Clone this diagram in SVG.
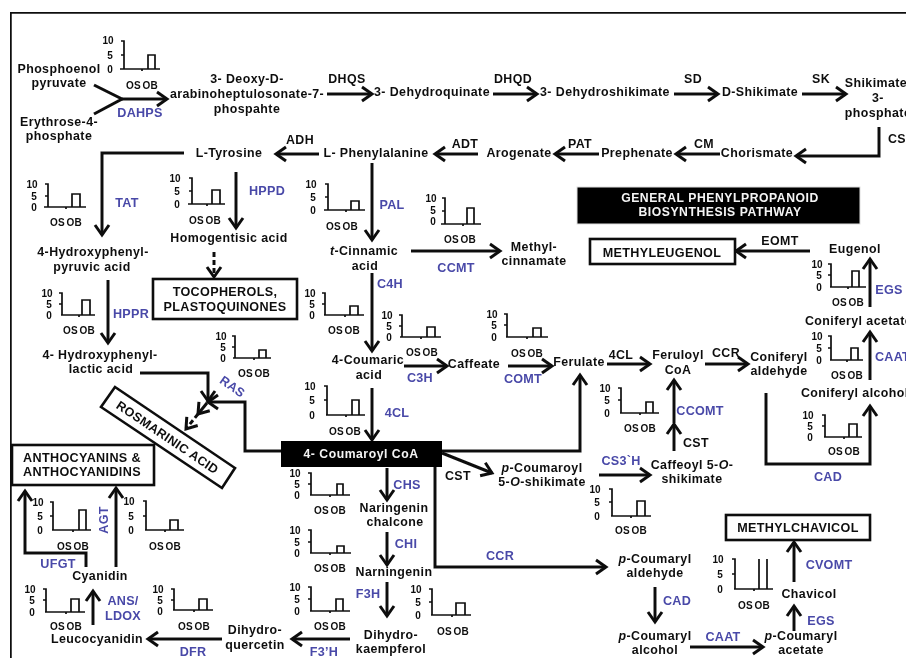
<svg xmlns="http://www.w3.org/2000/svg" width="906" height="658" viewBox="0 0 906 658">
<style>
text{font-family:"Liberation Sans",Arial,sans-serif;font-weight:bold;font-size:12.4px;letter-spacing:.42px;fill:#111;text-anchor:middle}
.e{fill:#4949a8;font-size:12.6px;letter-spacing:.25px}
.n{font-size:10px;letter-spacing:0}
.o{font-size:10px;letter-spacing:.3px;word-spacing:-1.6px}
.w{fill:#f4f4f4;font-size:12.2px;letter-spacing:.55px}
.b{font-size:12.6px;letter-spacing:.35px}
.box{fill:#fff;stroke:#111;stroke-width:2.6}
.blk{fill:#050505;stroke:#ddd;stroke-width:1}
.a{fill:none;stroke:#111;stroke-width:3;marker-end:url(#h)}
.l{fill:none;stroke:#111;stroke-width:3}
.d{stroke-dasharray:5 3}
.c{fill:none;stroke:#111;stroke-width:1.7}
.it{font-style:italic}
</style>
<defs>
<marker id="h" markerUnits="userSpaceOnUse" markerWidth="16" markerHeight="18" refX="13" refY="9" orient="auto" overflow="visible">
<path d="M3,2 L13,9 L3,16" fill="none" stroke="#111" stroke-width="3"/>
</marker>
<filter id="soft" x="0" y="0" width="100%" height="100%"><feGaussianBlur stdDeviation="0.35"/></filter>
</defs>
<rect width="906" height="658" fill="#fff"/>
<g filter="url(#soft)">
<path id="frame" d="M906,12.500H10.500V658" fill="none" stroke="#111" stroke-width="2.500"/>

<g id="connectors">
<path class="l" d="M94,85L122,99L94,114"/>
<path class="a" d="M122,99H167"/>
<path class="a" d="M327,94H372"/>
<path class="a" d="M493,94H537"/>
<path class="a" d="M674,94H718"/>
<path class="a" d="M802,94H846"/>
<path class="a" d="M879,127V156H796"/>
<path class="a" d="M720,154H676"/>
<path class="a" d="M599,154H555"/>
<path class="a" d="M478,154H435"/>
<path class="a" d="M319,154H276"/>
<path class="a" d="M184,153H102V235"/>
<path class="a" d="M236,172V228"/>
<path class="a" d="M372,163V240"/>
<path class="a" d="M372,273V351"/>
<path class="a" d="M372,388V440"/>
<path class="a" d="M411,251H500"/>
<path class="a d" d="M214,252V277"/>
<path class="a" d="M108,280V343"/>
<path class="a" d="M140,373H208V401"/>
<path class="a" d="M281,451H245V402H208"/>
<path class="a" d="M207,403L198,414"/>
<path class="a d" d="M198,414L186,429"/>
<path class="a" d="M404,366H447"/>
<path class="a" d="M508,366H552"/>
<path class="a" d="M607,364H650"/>
<path class="a" d="M705,364H748"/>
<path class="a" d="M442,451H580V375"/>
<path class="a" d="M442,453L492,473"/>
<path class="a" d="M435,467V567H606"/>
<path class="a" d="M599,475H650"/>
<path class="a" d="M674,451V424"/>
<path class="a" d="M674,423V380"/>
<path class="a" d="M766,393V464H870V406"/>
<path class="a" d="M870,380V332"/>
<path class="a" d="M870,307V259"/>
<path class="a" d="M810,251H736"/>
<path class="a" d="M387,468V500"/>
<path class="a" d="M387,532V565"/>
<path class="a" d="M387,582V616"/>
<path class="a" d="M350,639H292"/>
<path class="a" d="M222,639H148"/>
<path class="a" d="M93,625V591"/>
<path class="a" d="M116,567V488"/>
<path class="a" d="M86,567V553H25V491"/>
<path class="a" d="M655,587V622"/>
<path class="a" d="M690,647H763"/>
<path class="a" d="M794,631V606"/>
<path class="a" d="M794,582V542"/>
</g>

<g id="box-tocopherols"><rect class="box" x="153" y="279" width="144" height="40"/><text class="b" x="225" y="296">TOCOPHEROLS,</text><text class="b" x="225" y="311">PLASTOQUINONES</text></g>
<g id="box-methyleugenol"><rect class="box" x="590" y="239" width="145" height="25"/><text class="b" x="662" y="257">METHYLEUGENOL</text></g>
<g id="box-title"><rect class="blk" x="577" y="187" width="283" height="37"/><text class="w" x="720" y="202">GENERAL PHENYLPROPANOID</text><text class="w" x="720" y="216">BIOSYNTHESIS PATHWAY</text></g>
<g id="box-anthocyanins"><rect class="box" x="12" y="445" width="142" height="40"/><text class="b" x="82" y="462">ANTHOCYANINS &amp;</text><text class="b" x="82" y="476">ANTHOCYANIDINS</text></g>
<g id="box-rosmarinic"><path class="box" d="M115,387L235,468L222,488L101,407Z"/><text class="b" transform="translate(165,441) rotate(34)">ROSMARINIC ACID</text></g>
<g id="box-methylchavicol"><rect class="box" x="726" y="515" width="144" height="25"/><text class="b" x="798" y="532">METHYLCHAVICOL</text></g>
<g id="box-coumaroyl-coa"><rect x="281" y="441" width="161" height="26" fill="#050505"/><text class="w" x="361" y="458">4- Coumaroyl CoA</text></g>

<g id="n-pep"><text x="59" y="73">Phosphoenol</text><text x="59" y="87">pyruvate</text></g>
<g id="n-e4p"><text x="59" y="126">Erythrose-4-</text><text x="59" y="140">phosphate</text></g>
<g id="n-dahp"><text x="247" y="83">3- Deoxy-D-</text><text x="247" y="98">arabinoheptulosonate-7-</text><text x="247" y="113">phospahte</text></g>
<g id="n-dhq"><text x="432" y="96">3- Dehydroquinate</text></g>
<g id="n-dhs"><text x="605" y="96">3- Dehydroshikimate</text></g>
<g id="n-shik"><text x="760" y="96">D-Shikimate</text></g>
<g id="n-s3p"><text x="876" y="87">Shikimate</text><text x="878" y="102">3-</text><text x="878" y="117">phosphate</text></g>
<g id="n-chor"><text x="757" y="157">Chorismate</text></g>
<g id="n-prep"><text x="637" y="157">Prephenate</text></g>
<g id="n-arog"><text x="519" y="157">Arogenate</text></g>
<g id="n-phe"><text x="376" y="157">L- Phenylalanine</text></g>
<g id="n-tyr"><text x="229" y="157">L-Tyrosine</text></g>
<g id="n-hga"><text x="229" y="242">Homogentisic acid</text></g>
<g id="n-hppa"><text x="93" y="256">4-Hydroxyphenyl-</text><text x="92" y="271">pyruvic acid</text></g>
<g id="n-hpla"><text x="100" y="359">4- Hydroxyphenyl-</text><text x="101" y="373">lactic acid</text></g>
<g id="n-cinn"><text x="364" y="255"><tspan class="it">t</tspan>-Cinnamic</text><text x="365" y="270">acid</text></g>
<g id="n-coum"><text x="368" y="364">4-Coumaric</text><text x="369" y="379">acid</text></g>
<g id="n-mecinn"><text x="534" y="251">Methyl-</text><text x="534" y="265">cinnamate</text></g>
<g id="n-caff"><text x="474" y="368">Caffeate</text></g>
<g id="n-fer"><text x="579" y="366">Ferulate</text></g>
<g id="n-fercoa"><text x="678" y="359">Feruloyl</text><text x="678" y="374">CoA</text></g>
<g id="n-conald"><text x="779" y="361">Coniferyl</text><text x="779" y="375">aldehyde</text></g>
<g id="n-eug"><text x="855" y="253">Eugenol</text></g>
<g id="n-conac"><text x="805" y="325" style="text-anchor:start">Coniferyl acetate</text></g>
<g id="n-conalc"><text x="801" y="397" style="text-anchor:start">Coniferyl alcohol</text></g>
<g id="n-pcs"><text x="542" y="472"><tspan class="it">p</tspan>-Coumaroyl</text><text x="542" y="486">5-<tspan class="it">O</tspan>-shikimate</text></g>
<g id="n-ccs"><text x="692" y="469">Caffeoyl 5-<tspan class="it">O</tspan>-</text><text x="692" y="483">shikimate</text></g>
<g id="n-pcald"><text x="655" y="563"><tspan class="it">p</tspan>-Coumaryl</text><text x="655" y="577">aldehyde</text></g>
<g id="n-pcalc"><text x="655" y="640"><tspan class="it">p</tspan>-Coumaryl</text><text x="655" y="654">alcohol</text></g>
<g id="n-pcac"><text x="801" y="640"><tspan class="it">p</tspan>-Coumaryl</text><text x="801" y="654">acetate</text></g>
<g id="n-chav"><text x="809" y="598">Chavicol</text></g>
<g id="n-narch"><text x="394" y="512">Naringenin</text><text x="395" y="526">chalcone</text></g>
<g id="n-nar"><text x="394" y="576">Narningenin</text></g>
<g id="n-dhk"><text x="391" y="639">Dihydro-</text><text x="391" y="653">kaempferol</text></g>
<g id="n-dhq2"><text x="255" y="634">Dihydro-</text><text x="255" y="649">quercetin</text></g>
<g id="n-leuco"><text x="97" y="643">Leucocyanidin</text></g>
<g id="n-cyan"><text x="100" y="580">Cyanidin</text></g>

<g id="enzymes-black">
<text x="347" y="83">DHQS</text><text x="513" y="83">DHQD</text><text x="693" y="83">SD</text><text x="821" y="83">SK</text>
<text x="888" y="143" style="text-anchor:start">CS</text><text x="704" y="148">CM</text><text x="580" y="148">PAT</text><text x="465" y="148">ADT</text><text x="300" y="144">ADH</text>
<text x="780" y="245">EOMT</text><text x="621" y="359">4CL</text><text x="726" y="357">CCR</text><text x="696" y="447">CST</text><text x="458" y="480">CST</text>
</g>
<g id="enzymes-blue">
<text class="e" x="140" y="117">DAHPS</text><text class="e" x="127" y="207">TAT</text><text class="e" x="267" y="195">HPPD</text><text class="e" x="392" y="209">PAL</text>
<text class="e" x="390" y="288">C4H</text><text class="e" x="131" y="318">HPPR</text><text class="e" transform="translate(230,390) rotate(35)">RAS</text>
<text class="e" x="397" y="417">4CL</text><text class="e" x="420" y="382">C3H</text><text class="e" x="456" y="272">CCMT</text><text class="e" x="523" y="383">COMT</text>
<text class="e" x="700" y="415">CCOMT</text><text class="e" x="889" y="294">EGS</text><text class="e" x="875" y="361" style="text-anchor:start">CAAT</text><text class="e" x="828" y="481">CAD</text>
<text class="e" x="621" y="465">CS3`H</text><text class="e" x="829" y="569">CVOMT</text><text class="e" x="821" y="625">EGS</text><text class="e" x="677" y="605">CAD</text>
<text class="e" x="723" y="641">CAAT</text><text class="e" x="500" y="560">CCR</text><text class="e" x="407" y="489">CHS</text><text class="e" x="406" y="548">CHI</text>
<text class="e" x="368" y="598">F3H</text><text class="e" x="324" y="656">F3’H</text><text class="e" x="193" y="656">DFR</text><text class="e" x="123" y="605">ANS/</text><text class="e" x="123" y="620">LDOX</text>
<text class="e" x="58" y="568">UFGT</text><text class="e" transform="translate(108,520) rotate(-90)">AGT</text>
</g>

<g id="chart-dahps"><path class="c" d="M121,41H124V69M120,69H160M142,69V71M124,55H121M148,69V55H155V69"/><text class="n" x="108" y="44">10</text><text class="n" x="110" y="59">5</text><text class="n" x="110" y="73">0</text><text class="o" x="142" y="89">OS OB</text></g>
<g id="chart-tat"><path class="c" d="M45,184H48V207M44,207H86M66,207V209M48,196H45M72,207V194H80V207"/><text class="n" x="32" y="188">10</text><text class="n" x="34" y="200">5</text><text class="n" x="34" y="211">0</text><text class="o" x="66" y="226">OS OB</text></g>
<g id="chart-hppd"><path class="c" d="M189,178H192V204M188,204H225M207,204V206M192,191H189M212,204V190H220V204"/><text class="n" x="175" y="182">10</text><text class="n" x="177" y="195">5</text><text class="n" x="177" y="208">0</text><text class="o" x="205" y="224">OS OB</text></g>
<g id="chart-pal"><path class="c" d="M325,184H328V210M324,210H365M346,210V212M328,197H325M351,210V201H359V210"/><text class="n" x="311" y="188">10</text><text class="n" x="313" y="201">5</text><text class="n" x="313" y="214">0</text><text class="o" x="342" y="230">OS OB</text></g>
<g id="chart-ccmt"><path class="c" d="M442,198H445V224M441,224H481M463,224V226M445,211H442M467,224V208H474V224"/><text class="n" x="431" y="202">10</text><text class="n" x="433" y="214">5</text><text class="n" x="433" y="225">0</text><text class="o" x="460" y="243">OS OB</text></g>
<g id="chart-hppr"><path class="c" d="M59,293H62V315M61,315H95M79,315V317M62,304H59M82,315V300H90V315"/><text class="n" x="47" y="297">10</text><text class="n" x="49" y="308">5</text><text class="n" x="49" y="319">0</text><text class="o" x="79" y="334">OS OB</text></g>
<g id="chart-c4h"><path class="c" d="M322,293H325V315M324,315H364M345,315V317M325,304H322M350,315V306H358V315"/><text class="n" x="310" y="297">10</text><text class="n" x="312" y="308">5</text><text class="n" x="312" y="319">0</text><text class="o" x="344" y="334">OS OB</text></g>
<g id="chart-c3h"><path class="c" d="M399,315H402V337M400,337H441M421,337V339M402,326H399M427,337V327H435V337"/><text class="n" x="387" y="319">10</text><text class="n" x="389" y="330">5</text><text class="n" x="389" y="341">0</text><text class="o" x="422" y="356">OS OB</text></g>
<g id="chart-ras"><path class="c" d="M232,336H235V358M233,358H271M254,358V360M235,347H232M259,358V350H266V358"/><text class="n" x="221" y="340">10</text><text class="n" x="223" y="351">5</text><text class="n" x="223" y="362">0</text><text class="o" x="254" y="377">OS OB</text></g>
<g id="chart-4cl"><path class="c" d="M324,386H327V415M326,415H365M346,415V417M327,400H324M352,415V400H359V415"/><text class="n" x="310" y="390">10</text><text class="n" x="312" y="404">5</text><text class="n" x="312" y="419">0</text><text class="o" x="345" y="435">OS OB</text></g>
<g id="chart-comt"><path class="c" d="M504,314H507V337M506,337H548M527,337V339M507,325H504M533,337V328H541V337"/><text class="n" x="492" y="318">10</text><text class="n" x="494" y="329">5</text><text class="n" x="494" y="341">0</text><text class="o" x="527" y="357">OS OB</text></g>
<g id="chart-ccomt"><path class="c" d="M618,388H621V413M620,413H659M640,413V415M621,400H618M646,413V402H653V413"/><text class="n" x="605" y="392">10</text><text class="n" x="607" y="404">5</text><text class="n" x="607" y="417">0</text><text class="o" x="640" y="432">OS OB</text></g>
<g id="chart-egs"><path class="c" d="M828,264H831V287M830,287H866M848,287V289M831,275H828M852,287V271H859V287"/><text class="n" x="817" y="268">10</text><text class="n" x="819" y="279">5</text><text class="n" x="819" y="291">0</text><text class="o" x="848" y="306">OS OB</text></g>
<g id="chart-caat"><path class="c" d="M828,336H831V360M830,360H863M847,360V362M831,348H828M851,360V348H858V360"/><text class="n" x="817" y="340">10</text><text class="n" x="819" y="352">5</text><text class="n" x="819" y="364">0</text><text class="o" x="847" y="379">OS OB</text></g>
<g id="chart-cad"><path class="c" d="M822,415H825V437M824,437H862M844,437V439M825,426H822M849,437V424H857V437"/><text class="n" x="808" y="419">10</text><text class="n" x="810" y="430">5</text><text class="n" x="810" y="441">0</text><text class="o" x="844" y="455">OS OB</text></g>
<g id="chart-ufgt"><path class="c" d="M50,502H53V530M52,530H91M73,530V532M53,516H50M79,530V510H86V530"/><text class="n" x="38" y="506">10</text><text class="n" x="40" y="520">5</text><text class="n" x="40" y="534">0</text><text class="o" x="73" y="550">OS OB</text></g>
<g id="chart-agt"><path class="c" d="M143,501H146V530M145,530H184M165,530V532M146,516H143M170,530V520H178V530"/><text class="n" x="129" y="505">10</text><text class="n" x="131" y="520">5</text><text class="n" x="131" y="534">0</text><text class="o" x="165" y="550">OS OB</text></g>
<g id="chart-chs"><path class="c" d="M308,473H311V495M310,495H350M330,495V497M311,484H308M337,495V484H343V495"/><text class="n" x="295" y="477">10</text><text class="n" x="297" y="488">5</text><text class="n" x="297" y="499">0</text><text class="o" x="330" y="514">OS OB</text></g>
<g id="chart-chi"><path class="c" d="M308,530H311V553M310,553H351M330,553V555M311,542H308M337,553V546H344V553"/><text class="n" x="295" y="534">10</text><text class="n" x="297" y="546">5</text><text class="n" x="297" y="557">0</text><text class="o" x="330" y="572">OS OB</text></g>
<g id="chart-f3h"><path class="c" d="M308,587H311V611M310,611H350M330,611V613M311,599H308M336,611V599H343V611"/><text class="n" x="295" y="591">10</text><text class="n" x="297" y="603">5</text><text class="n" x="297" y="615">0</text><text class="o" x="330" y="630">OS OB</text></g>
<g id="chart-dhk"><path class="c" d="M429,589H432V615M431,615H471M452,615V617M432,602H429M456,615V603H465V615"/><text class="n" x="416" y="593">10</text><text class="n" x="418" y="606">5</text><text class="n" x="418" y="619">0</text><text class="o" x="453" y="635">OS OB</text></g>
<g id="chart-ans"><path class="c" d="M43,589H46V612M45,612H85M66,612V614M46,600H43M71,612V599H79V612"/><text class="n" x="30" y="593">10</text><text class="n" x="32" y="604">5</text><text class="n" x="32" y="616">0</text><text class="o" x="66" y="630">OS OB</text></g>
<g id="chart-dfr"><path class="c" d="M171,589H174V610M173,610H213M194,610V612M174,600H171M199,610V599H207V610"/><text class="n" x="158" y="593">10</text><text class="n" x="160" y="604">5</text><text class="n" x="160" y="615">0</text><text class="o" x="194" y="630">OS OB</text></g>
<g id="chart-cs3h"><path class="c" d="M609,489H612V516M611,516H651M631,516V518M612,502H609M637,516V501H645V516"/><text class="n" x="595" y="493">10</text><text class="n" x="597" y="506">5</text><text class="n" x="597" y="520">0</text><text class="o" x="631" y="534">OS OB</text></g>
<g id="chart-chav"><path class="c" d="M732,559H735V589M734,589H773M754,589V591M735,574H732M759,589V559M767,589V559"/><text class="n" x="718" y="563">10</text><text class="n" x="720" y="578">5</text><text class="n" x="720" y="593">0</text><text class="o" x="754" y="609">OS OB</text></g>
</g>
</svg>
